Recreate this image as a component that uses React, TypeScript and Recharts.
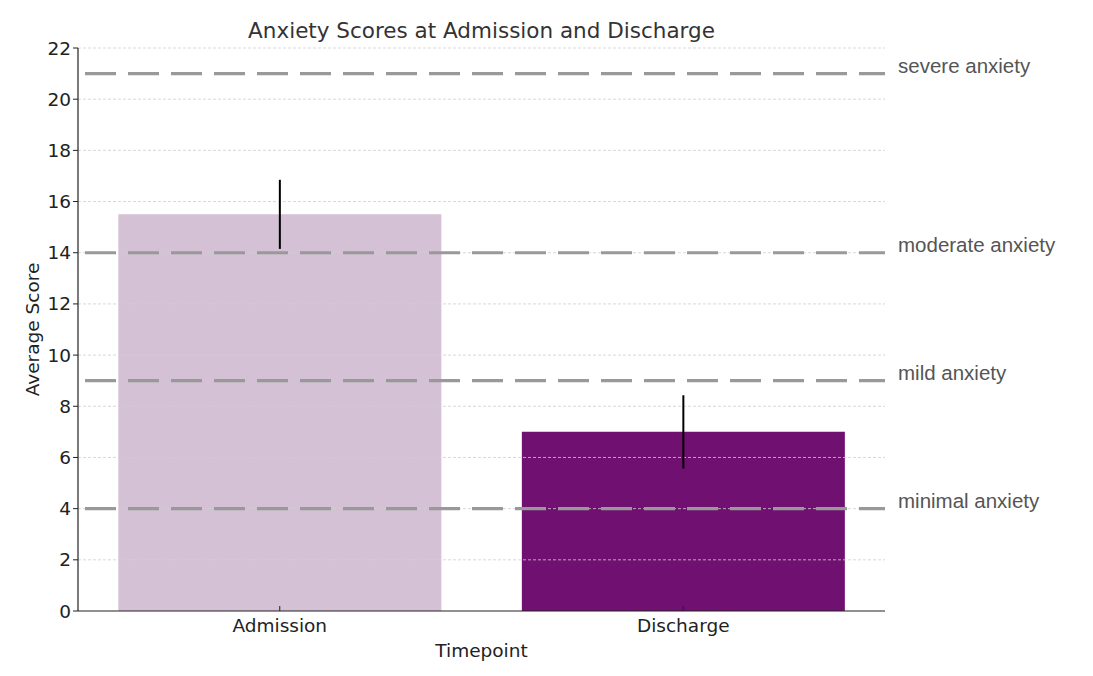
import React from 'react';
import { BarChart, Bar, XAxis, YAxis, ReferenceLine, ErrorBar, Cell } from 'recharts';

const timepoints = ['Admission', 'Discharge'];
const meanScores = [15.5, 7.0];
const errors = [1.35, 1.43];
const barColors = ['#d5c1d5', '#701070'];
const yTicks = [0, 2, 4, 6, 8, 10, 12, 14, 16, 18, 20, 22];
const thresholds = [21, 14, 9, 4];
const thresholdLabels = ['severe anxiety', 'moderate anxiety', 'mild anxiety', 'minimal anxiety'];

const data = timepoints.map((t, i) => ({ name: t, score: meanScores[i], err: errors[i] }));

const FONT = '"DejaVu Sans", sans-serif';

const XTick = (props: any) => {
  const { x, y, payload } = props;
  return (
    <g>
      <line x1={x} x2={x} y1={y - 5} y2={y} stroke="#222" strokeWidth={1} />
      <text x={x} y={y + 21} textAnchor="middle" fontSize={18.5} fill="#222" fontFamily={FONT}>
        {payload.value}
      </text>
    </g>
  );
};

const App: React.FC = () => {
  return (
    <div style={{ position: 'absolute', left: 0, top: 0, width: 1093, height: 676, background: '#fff' }}>
      <div
        style={{
          position: 'absolute', left: 78, top: 18, width: 807, textAlign: 'center',
          fontFamily: FONT, fontSize: 21.5, color: '#333',
        }}
      >
        Anxiety Scores at Admission and Discharge
      </div>
      <BarChart
        width={1093}
        height={676}
        data={data}
        margin={{ top: 48, right: 208, bottom: 0, left: 0 }}
        barCategoryGap="10%"
      >
        <XAxis
          dataKey="name"
          height={65}
          axisLine={{ stroke: '#222', strokeWidth: 1.2 }}
          tickLine={false}
          tickSize={0}
          tickMargin={0}
          tick={<XTick />}
          label={{ value: 'Timepoint', position: 'center', dy: 7, fontSize: 18.5, fill: '#222', fontFamily: FONT }}
        />
        <XAxis dataKey="name" xAxisId="err" hide />
        <YAxis
          width={78}
          domain={[0, 22]}
          ticks={yTicks}
          interval={0}
          axisLine={{ stroke: '#222', strokeWidth: 1.2 }}
          tickLine={{ stroke: '#222' }}
          tickSize={5}
          tickMargin={2}
          tick={{ fontSize: 18.5, fill: '#222', fontFamily: FONT }}
          label={{ value: 'Average Score', angle: -90, position: 'center', dx: -7, fontSize: 18.5, fill: '#222', fontFamily: FONT }}
        />
        <Bar dataKey="score" isAnimationActive={false}>
          {data.map((d, i) => (
            <Cell key={d.name} fill={barColors[i]} />
          ))}
        </Bar>
        {yTicks.slice(1).map((v) => (
          <ReferenceLine key={`g${v}`} y={v} stroke="#cfcfcf" strokeWidth={0.8} strokeDasharray="3 2" />
        ))}
        {thresholds.map((v, i) => (
          <ReferenceLine
            key={`t${v}`}
            y={v}
            stroke="#999"
            strokeWidth={3.2}
            strokeDasharray="31 12"
            strokeDashoffset={36}
            label={(p: any) => {
              const vb = p.viewBox;
              return (
                <text
                  x={vb.x + vb.width + 13}
                  y={vb.y - 1}
                  fontSize={20.5}
                  fill="#555"
                  fontFamily='"Liberation Sans", Arial, sans-serif'
                >
                  {thresholdLabels[i]}
                </text>
              );
            }}
          />
        ))}
        <Bar dataKey="score" xAxisId="err" fill="none" isAnimationActive={false} legendType="none">
          <ErrorBar dataKey="err" width={0} stroke="#000" strokeWidth={2} direction="y" />
        </Bar>
      </BarChart>
    </div>
  );
};

export default App;
